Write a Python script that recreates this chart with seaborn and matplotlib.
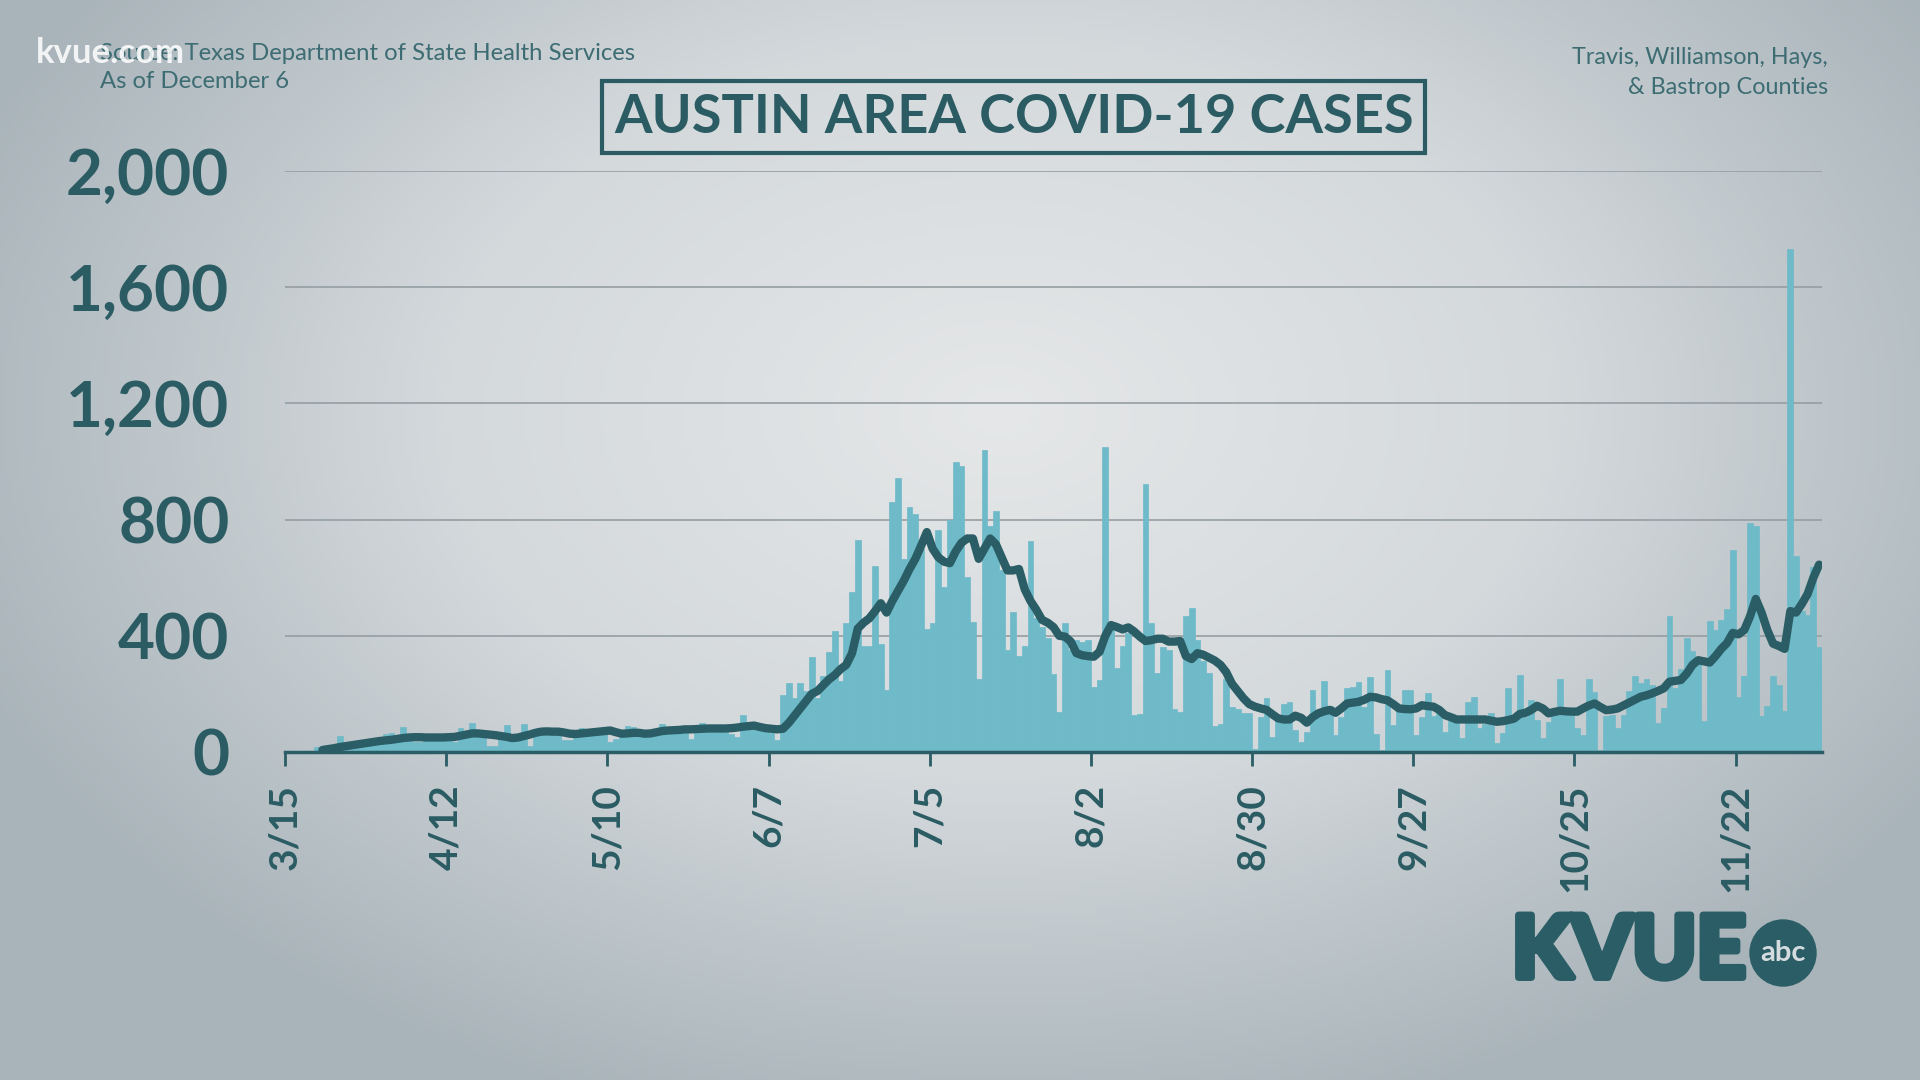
import numpy as np
import pandas as pd
import seaborn as sns
import matplotlib.pyplot as plt
import matplotlib.patheffects as pe
from matplotlib.patches import Circle
from matplotlib.colors import LinearSegmentedColormap

# daily new cases, one value per day starting 3/15
daily_cases = [
    1, 0, 2, 3, 4, 18, 12, 12, 16, 55, 24, 28, 30, 32, 36, 38, 41, 62, 64, 44,
    85, 47, 36, 36, 41, 62, 39, 41, 44, 36, 81, 66, 101, 70, 62, 21, 21, 58, 92, 58,
    44, 96, 21, 70, 81, 84, 81, 73, 41, 41, 70, 81, 70, 78, 78, 85, 36, 44, 62, 89,
    85, 70, 55, 64, 76, 96, 87, 73, 87, 70, 45, 76, 99, 81, 93, 81, 76, 62, 50, 127,
    104, 99, 87, 81, 64, 41, 195, 239, 187, 236, 210, 328, 186, 261, 345, 417, 245, 443, 552, 731,
    365, 365, 640, 372, 215, 861, 943, 666, 844, 818, 700, 422, 443, 764, 569, 797, 999, 983, 603, 448,
    253, 1041, 777, 829, 626, 350, 483, 330, 365, 727, 460, 431, 391, 268, 139, 443, 350, 385, 379, 385,
    225, 248, 1050, 420, 290, 365, 408, 127, 130, 922, 443, 273, 360, 352, 149, 139, 468, 494, 385, 313,
    273, 89, 96, 253, 156, 149, 133, 135, 12, 121, 186, 53, 127, 165, 173, 75, 35, 70, 215, 145,
    246, 158, 58, 121, 222, 224, 242, 156, 257, 62, 7, 282, 93, 150, 215, 215, 58, 121, 204, 124,
    156, 70, 110, 104, 47, 173, 190, 81, 98, 135, 32, 66, 222, 110, 265, 122, 179, 110, 47, 104,
    144, 250, 144, 133, 81, 58, 250, 208, 7, 124, 127, 81, 127, 211, 261, 238, 250, 230, 100, 150,
    467, 219, 284, 394, 349, 319, 106, 450, 420, 455, 493, 695, 189, 260, 789, 777, 124, 160, 260, 231,
    142, 1732, 675, 485, 473, 636, 363,
]

# 7-day average line, starting 3/21
avg_start = 6
rolling_avg = [
    7, 10, 13, 17, 20, 23, 26, 29, 32, 35, 38, 40, 42, 45,
    48, 50, 51, 51, 50, 50, 50, 50, 51, 52, 56, 60, 64, 64, 62, 60,
    58, 55, 52, 48, 50, 55, 60, 66, 70, 71, 70, 70, 67, 63, 62, 64, 66, 68, 70, 72,
    74, 68, 63, 64, 66, 66, 63, 64, 68, 72, 74, 75, 76, 78, 78, 79, 80, 81, 81, 81,
    81, 82, 84, 87, 89, 91, 86, 82, 80, 78, 80, 100, 125, 150, 175, 200, 210, 230, 250, 265,
    285, 300, 340, 425, 445, 460, 485, 512, 480, 520, 555, 590, 630, 665, 710, 757, 700, 670, 655, 650,
    690, 720, 735, 735, 665, 700, 735, 715, 670, 625, 625, 630, 560, 520, 490, 455, 445, 430, 400, 397,
    380, 340, 333, 330, 328, 345, 400, 437, 430, 422, 429, 415, 397, 382, 385, 390, 390, 380, 380, 382,
    330, 320, 340, 335, 325, 315, 300, 275, 235, 210, 185, 165, 156, 150, 145, 130, 116, 112, 112, 125,
    118, 101, 120, 133, 140, 145, 135, 150, 167, 170, 173, 180, 190, 188, 182, 178, 165, 150, 148, 147,
    150, 161, 158, 156, 145, 127, 120, 112, 112, 112, 112, 112, 112, 108, 104, 106, 110, 115, 131, 135,
    145, 159, 150, 133, 138, 142, 140, 139, 139, 150, 160, 167, 155, 144, 146, 150, 160, 170, 180, 190,
    195, 202, 210, 219, 242, 245, 248, 270, 300, 316, 312, 308, 330, 355, 375, 410, 405, 420, 467, 527,
    480, 420, 373, 365, 355, 485, 480, 510, 544, 600, 645,
]

tick_labels = ['3/15', '4/12', '5/10', '6/7', '7/5', '8/2', '8/30', '9/27', '10/25', '11/22']
y_ticks = [0, 400, 800, 1200, 1600, 2000]
y_tick_labels = ['0', '400', '800', '1,200', '1,600', '2,000']

bar_color = '#6fbac8'
line_color = '#2a5d65'
text_color = '#2b5c63'

sns.set_theme(style='white')
plt.rcParams['font.family'] = ['Lato', 'DejaVu Sans']

days = np.arange(len(daily_cases))
df = pd.DataFrame({'x': days + 0.5, 'cases': daily_cases})
avg_df = pd.DataFrame({'x': np.arange(avg_start, avg_start + len(rolling_avg)) + 0.5,
                       'avg': rolling_avg})

fig = plt.figure(figsize=(19.2, 10.8), dpi=100)

# grey vignette background
bg = fig.add_axes([0, 0, 1, 1], zorder=-10)
yy, xx = np.mgrid[0:1:216j, 0:1:384j]
r = np.sqrt(((xx - 0.52) / 0.8) ** 2 + ((yy - 0.62) / 0.95) ** 2)
bg_cmap = LinearSegmentedColormap.from_list('bg', ['#e5e7e8', '#d4d9dc', '#a9b4ba'])
bg.imshow(r, cmap=bg_cmap, extent=[0, 1, 0, 1], aspect='auto', vmin=0, vmax=0.72, origin='lower')
bg.axis('off')

ax = fig.add_axes([285 / 1920, 328 / 1080, (1822 - 285) / 1920, (752 - 171) / 1080])
ax.patch.set_alpha(0)

sns.barplot(data=df, x='x', y='cases', native_scale=True, width=1.0, color=bar_color,
            saturation=1, errorbar=None, linewidth=0.5, edgecolor=bar_color, ax=ax)
sns.lineplot(data=avg_df, x='x', y='avg', color=line_color, linewidth=6, ax=ax,
             solid_joinstyle='round', solid_capstyle='round')

ax.set_xlim(0, len(daily_cases))
ax.set_ylim(0, 2000)
ax.set_xticks(np.arange(0, 28 * len(tick_labels), 28))
ax.set_xticklabels(tick_labels)
ax.set_yticks(y_ticks)
ax.set_yticklabels(y_tick_labels)
ax.set_xlabel('')
ax.set_ylabel('')

ax.yaxis.grid(True, color='#959ea2', linewidth=1.2)
ax.xaxis.grid(False)
ax.set_axisbelow(True)
for side in ['left', 'top', 'right']:
    ax.spines[side].set_visible(False)
ax.spines['bottom'].set_color(line_color)
ax.spines['bottom'].set_linewidth(2.5)

ax.tick_params(axis='y', length=0, pad=40, labelsize=46, labelcolor=text_color)
ax.tick_params(axis='x', length=10, width=2, color=line_color, pad=13, labelsize=28,
               labelrotation=90, labelcolor=text_color, bottom=True)
for lbl in ax.get_yticklabels() + ax.get_xticklabels():
    lbl.set_fontweight('bold')

# header texts
fig.text(0.528, 1 - 117 / 1080, 'AUSTIN AREA COVID-19 CASES', ha='center', va='center',
         fontsize=39, color=text_color, fontweight='bold',
         bbox=dict(boxstyle='square,pad=0.22', fc='none', ec=text_color, lw=3))
fig.text(100 / 1920, 1 - 53 / 1080, 'Source: Texas Department of State Health Services',
         fontsize=17.2, color='#3d6c73', va='center')
fig.text(100 / 1920, 1 - 82 / 1080, 'As of December 6', fontsize=17.2, color='#3d6c73', va='center')
fig.text(36 / 1920, 1 - 53 / 1080, 'kvue.com', fontsize=25, color='white', alpha=0.85,
         fontweight='bold', va='center')
fig.text(1828 / 1920, 1 - 58 / 1080, 'Travis, Williamson, Hays,', ha='right', va='center',
         fontsize=16.8, color='#3d6c73')
fig.text(1828 / 1920, 1 - 88 / 1080, '& Bastrop Counties', ha='right', va='center',
         fontsize=16.8, color='#3d6c73')

# station logo
fig.text(1512 / 1920, 1 - 953 / 1080, 'KVUE', ha='left', va='center', fontsize=62,
         fontweight='black', color=line_color,
         path_effects=[pe.withStroke(linewidth=5, foreground=line_color)])
fig.add_artist(Circle((17.83, 1.27), 0.33, transform=fig.dpi_scale_trans, color=line_color))
fig.text(1783 / 1920, 1 - 953 / 1080, 'abc', ha='center', va='center', fontsize=21,
         fontweight='bold', color='#d5dcdf')

fig.savefig('out.png', dpi=100)
